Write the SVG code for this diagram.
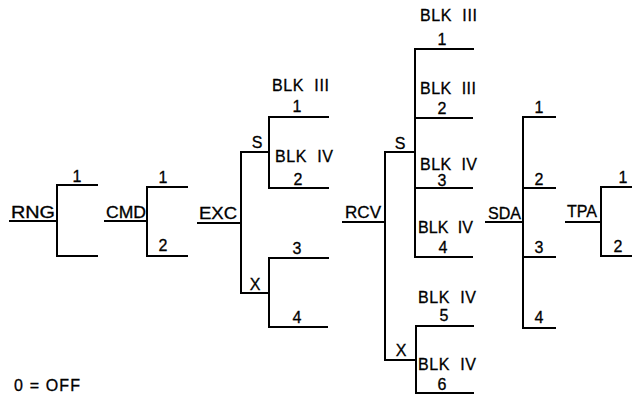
<svg xmlns="http://www.w3.org/2000/svg" width="632" height="400" viewBox="0 0 632 400">
<style>
.ln{stroke:#000;stroke-width:2;fill:none;stroke-linecap:square}
.t{font-family:"Liberation Sans",Arial,sans-serif;font-size:16px;fill:#000;stroke:#000;stroke-width:0.3}
.c{text-anchor:middle}
</style>
<rect width="632" height="400" fill="#fff"/>
<g id="connectors" class="ln">
<path d="M10 221H57M97 185H57V256H97"/>
<path d="M105 221H147M187 187H147V256H187"/>
<path d="M198 223H241M269 152H241V293H269M328 117H269V188H328M328 258H269V327H327"/>
<path d="M343 222H385M415 152H385V360H416M473 49H415V257H472M415 118H472M415 188H472M473 326H416V393H473"/>
<path d="M486 222H523M555 117H523V328H555M523 188H555M523 257H555"/>
<path d="M566 222H601M632 187H601V256H632"/>
</g>
<g id="rng" class="t">
<text x="11" y="218" textLength="44" lengthAdjust="spacingAndGlyphs">RNG</text>
<text class="c" x="77" y="182">1</text>
</g>
<g id="cmd" class="t">
<text x="106" y="218" textLength="40" lengthAdjust="spacingAndGlyphs">CMD</text>
<text class="c" x="163" y="183">1</text>
<text class="c" x="163" y="251">2</text>
</g>
<g id="exc" class="t">
<text x="199" y="219" textLength="38" lengthAdjust="spacingAndGlyphs">EXC</text>
<text class="c" x="257" y="148">S</text>
<text class="c" x="255" y="290">X</text>
<text x="272" y="91" textLength="57" lengthAdjust="spacing" xml:space="preserve">BLK  III</text>
<text class="c" x="297" y="112">1</text>
<text x="275" y="162" textLength="58" lengthAdjust="spacing" xml:space="preserve">BLK  IV</text>
<text class="c" x="298" y="185">2</text>
<text class="c" x="297" y="254">3</text>
<text class="c" x="297" y="323">4</text>
</g>
<g id="rcv" class="t">
<text x="345" y="218" textLength="36" lengthAdjust="spacingAndGlyphs">RCV</text>
<text class="c" x="400" y="149">S</text>
<text class="c" x="401" y="356">X</text>
<text x="420" y="21" textLength="57" lengthAdjust="spacing" xml:space="preserve">BLK  III</text>
<text class="c" x="442" y="45">1</text>
<text x="420" y="94" textLength="56" lengthAdjust="spacing" xml:space="preserve">BLK  III</text>
<text class="c" x="442" y="114">2</text>
<text x="420" y="170" textLength="57" lengthAdjust="spacing" xml:space="preserve">BLK  IV</text>
<text class="c" x="442" y="186">3</text>
<text x="418" y="233" textLength="55" lengthAdjust="spacing" xml:space="preserve">BLK  IV</text>
<text class="c" x="443" y="253">4</text>
<text x="418" y="303" textLength="58" lengthAdjust="spacing" xml:space="preserve">BLK  IV</text>
<text class="c" x="444" y="321">5</text>
<text x="418" y="370" textLength="58" lengthAdjust="spacing" xml:space="preserve">BLK  IV</text>
<text class="c" x="442" y="390">6</text>
</g>
<g id="sda" class="t">
<text x="488" y="219" textLength="33" lengthAdjust="spacingAndGlyphs">SDA</text>
<text class="c" x="539" y="113">1</text>
<text class="c" x="539" y="185">2</text>
<text class="c" x="539" y="253">3</text>
<text class="c" x="539" y="323">4</text>
</g>
<g id="tpa" class="t">
<text x="567" y="217" textLength="30" lengthAdjust="spacingAndGlyphs">TPA</text>
<text class="c" x="623" y="183">1</text>
<text class="c" x="618" y="252">2</text>
</g>
<g id="legend" class="t">
<text x="14" y="391" textLength="66" lengthAdjust="spacing">0 = OFF</text>
</g>
</svg>
